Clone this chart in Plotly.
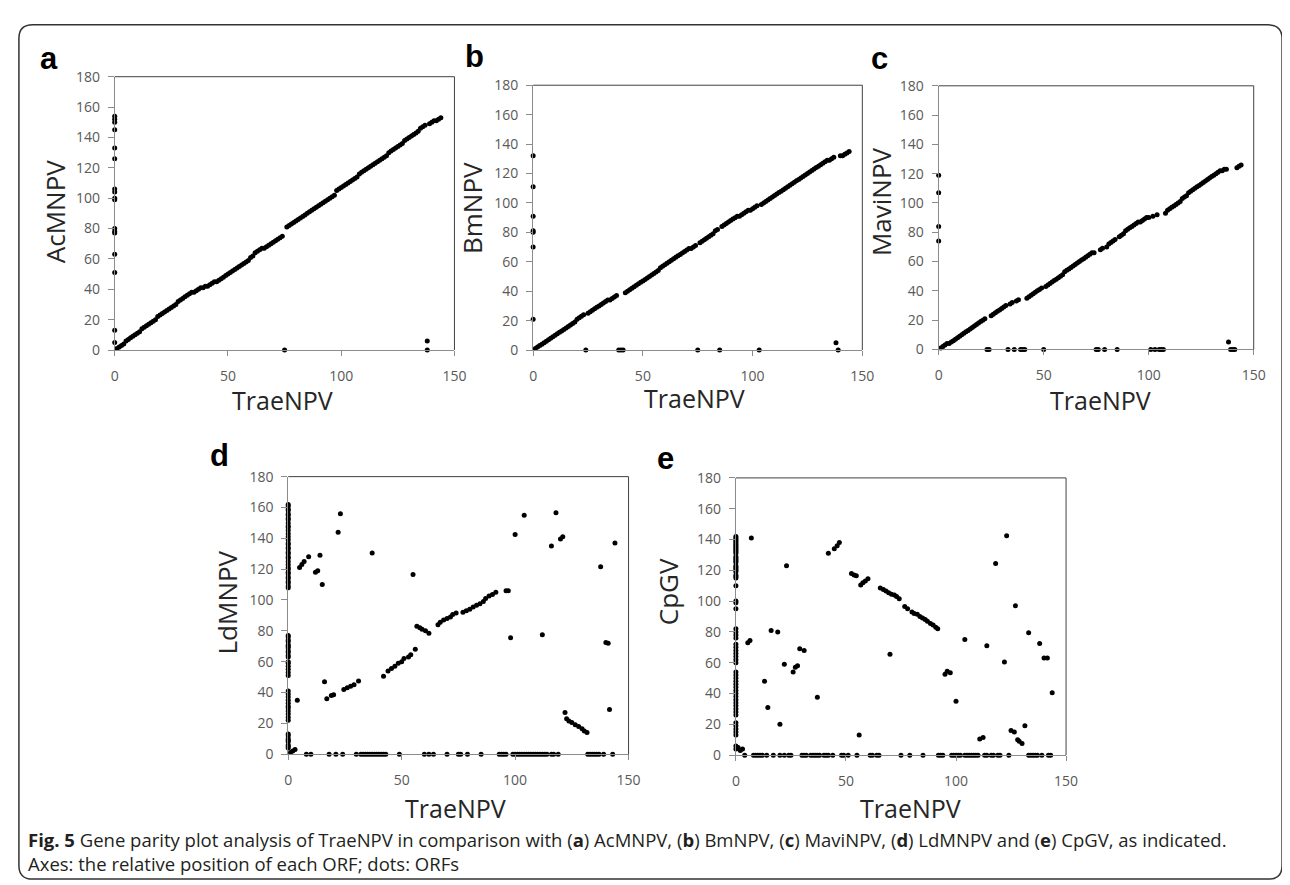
import plotly.graph_objects as go

W, H = 1290, 885

# ---------------- data (ORF positions) ----------------
# Panel a: TraeNPV vs AcMNPV
a_diag = [(1,1),(2,2),(3,3),(4,4),(5,6),(6,7),(7,8),(8,9),(9,10),(10,11),
          (11,12),(12,14),(13,15),(14,16),(15,17),(16,18),(17,19),(18,20),(19,22),(20,23),
          (21,24),(22,25),(23,26),(24,27),(25,28),(26,29),(27,30),(28,32),(29,33),(30,34),
          (31,35),(32,36),(33,37),(34,38),(35,38),(36,39),(37,40),(38,41),(39,41),(40,42),
          (41,42),(42,43),(43,44),(44,45),(45,45),(46,46),(47,47),(48,48),(49,49),(50,50),
          (51,51),(52,52),(53,53),(54,54),(55,55),(56,56),(57,57),(58,58),(59,59),(60,61),
          (61,62),(62,64),(63,65),(64,66),(65,67),(66,67),(67,68),(68,69),(69,70),(70,71),
          (71,72),(72,73),(73,74),(74,75),
          (76,81),(77,82),(78,83),(79,84),(80,85),(81,86),(82,87),(83,88),(84,89),(85,90),
          (86,91),(87,92),(88,93),(89,94),(90,95),(91,96),(92,97),(93,98),(94,99),(95,100),
          (96,101),(97,102),(98,105),(99,106),(100,107),(101,108),(102,109),(103,110),(104,111),(105,112),
          (106,113),(107,114),(108,116),(109,117),(110,118),(111,119),(112,120),(113,121),(114,122),(115,123),
          (116,124),(117,125),(118,126),(119,127),(120,128),(121,130),(122,131),(123,132),(124,133),(125,134),
          (126,135),(127,136),(128,138),(129,139),(130,140),(131,141),(132,142),(133,143),(134,144),(135,146),
          (136,147),(137,148),(138,6),
          (139,149),(140,150),(141,151),(142,151),(143,152),(144,153)]
a_on_yaxis = [154,152,150,145,133,126,106,104,100,99,80,78,77,63,51,13,5]
a_on_xaxis = [75,138]

# Panel b: TraeNPV vs BmNPV
b_diag = [(1,1),(2,2),(3,3),(4,4),(5,5),(6,6),(7,7),(8,8),(9,9),(10,10),
          (11,11),(12,12),(13,13),(14,14),(15,15),(16,16),(17,17),(18,18),(19,19),(20,21),
          (21,22),(22,23),(23,24),(25,25),(26,26),(27,27),(28,28),(29,29),(30,30),
          (31,31),(32,32),(33,33),(34,34),(35,34),(36,35),(37,36),(38,37),
          (42,39),(43,40),(44,41),(45,42),(46,43),(47,44),(48,45),(49,46),(50,47),
          (51,48),(52,49),(53,50),(54,51),(55,52),(56,53),(57,54),(58,56),(59,57),(60,58),
          (61,59),(62,60),(63,61),(64,62),(65,63),(66,64),(67,65),(68,66),(69,67),(70,68),
          (71,69),(72,69),(73,70),(74,71),
          (76,73),(77,74),(78,75),(79,76),(80,77),(81,78),(82,79),(83,81),(84,82),
          (86,84),(87,85),(88,86),(89,87),(90,88),(91,89),(92,90),(93,91),(94,91),(95,92),
          (96,93),(97,94),(98,95),(99,95),(100,96),(101,97),(102,98),
          (104,99),(105,100),(106,101),(107,102),(108,103),(109,104),(110,105),(111,106),(112,107),(113,108),
          (114,109),(115,110),(116,111),(117,112),(118,113),(119,114),(120,115),(121,116),(122,117),(123,118),
          (124,119),(125,120),(126,121),(127,122),(128,123),(129,124),(130,125),(131,126),(132,127),(133,128),
          (134,129),(135,129),(136,130),(137,131),(138,5),
          (140,132),(141,132),(142,133),(143,134),(144,135)]
b_on_yaxis = [132,111,91,81,80,70,21]
b_on_xaxis = [24,39,40,41,75,85,103,139]

# Panel c: TraeNPV vs MaviNPV
c_diag = [(1,1),(2,2),(3,3),(4,4),(5,4),(6,5),(7,6),(8,7),(9,8),(10,9),
          (11,10),(12,11),(13,12),(14,13),(15,14),(16,15),(17,16),(18,17),(19,18),(20,19),
          (21,20),(22,21),(25,23),(26,24),(27,25),(28,26),(29,27),(30,28),
          (31,29),(32,30),(34,31),(35,32),(37,33),(38,34),
          (42,35),(43,36),(44,37),(45,38),(46,39),(47,40),(48,41),(49,42),(51,43),(52,44),(53,45),(54,46),(55,47),
          (56,48),(57,49),(58,50),(59,51),(60,53),(61,54),(62,55),(63,56),(64,57),(65,58),(66,59),(67,60),(68,61),(69,62),(70,63),
          (71,64),(72,65),(73,66),(74,66),(77,68),(78,69),(80,70),(81,72),(82,73),(83,74),(84,75),
          (86,77),(87,78),(88,79),(89,81),(90,82),(91,83),(92,84),(93,85),(94,86),(95,87),(96,87),(97,88),(98,89),(99,90),(100,90),
          (102,91),(104,92),(108,93),(109,95),(110,96),(111,97),(112,98),(113,99),(114,100),(115,101),(116,103),(117,104),(118,105),(119,107),(120,108),
          (121,109),(122,110),(123,111),(124,112),(125,113),(126,114),(127,115),(128,116),(129,117),(130,118),(131,119),(132,120),(133,121),(134,122),
          (135,122),(136,123),(137,123),(138,5),(142,124),(143,125),(144,126)]
c_on_yaxis = [119,107,84,74]
c_on_xaxis = [23,24,33,36,39,40,41,50,75,76,79,85,101,103,105,106,107,139,140,141]

# Panel d: TraeNPV vs LdMNPV
d_pts = [(1,1),(2,2),(3,3),
         (4,35),(5,121),(6,123),(7,125),(9,128),(12,118),(13,119),(14,129),(15,110),(16,47),(17,36),(19,38),(20,38.5),
         (22,144),(23,156),(24.5,42),(26,43),(27.5,44),(29,45),(31,47.5),(37,130.5),
         (42,50.5),(44,54),(45.5,55.5),(47,57),(48.5,59),(50,60),(51,62),(53,63),(54,64.5),(56,68),(55,116.5),
         (56.7,83),(58,82),(59,81),(60.5,80),(62,78.5),
         (66,84),(67,85.5),(68.5,87),(70,88),(71.5,89),(72.5,90.5),(74,91.5),
         (77,92),(78.5,93),(80,94),(81.5,95.5),(83,96.5),(84.5,97.5),
         (86,99),(87,101),(88.5,102.5),(90,103.5),(91.5,105),(96,106),(97,106),
         (98,75.5),(100,142.5),(104,155),(112,77.5),(116,135),(118,156.5),(120,139.5),(121,141),
         (122,27),(122.7,23),(123.7,21.5),(125,20.5),(126.5,19),(128,18),(129.5,16.5),(130.5,15),(131.7,14),
         (137.7,121.5),(140,72.5),(141,72),(141.6,29),(144,137)]
d_on_yaxis = [108,109,111,112,114,115,117,118,120,121,123,125,127,128,130,131,133,134,136,137,139,141,143,145,147,148,
              150,152,153,155,156,158,159,161,162,
              63,64,66,67,69,70,71,73,74,76,77,
              51,53,55,57,59,60,
              22,24,26,28,30,31,33,35,37,39,41,
              4,5,6,8,9,10,12,13]
d_on_xaxis = [8,10,18,21,24,30,32,33,34,35,36,37,38,39,40,41,42,43,49,60,62,64,70,75,76,79,85,
              93,94,95,96,99,100,101,102,103,104,105,106,107,108,109,110,111,112,113,114,116,117,119,
              132,133,134,135,136,137,139,143]

# Panel e: TraeNPV vs CpGV
e_pts = [(1,5),(2,3),(3,4),
         (5.4,73),(6.4,74.5),(7,141),(13,48),(14.5,31),(16,81),(19,80),(20,20),(22,59),(23,123),
         (26,54),(27,57),(28,58),(29,69),(31,68),(37,37.5),(42,131),(44.7,134),(46,136),(47,138),
         (52.5,118),(53.7,117),(54.7,116.5),(56,13),(56.7,110.5),(57.7,112),(58.8,113),(60,114.5),
         (65.6,108.5),(67,107.5),(68.2,106.5),(69.4,105.5),(70.7,104.5),(72,104),(73,103),(74.2,101.5),(70,65.5),
         (76.7,96.5),(78,95),(80,93),(81,92),(82.4,91.5),(83.6,90),(84.8,89),(86,88),(87,87),(88.4,85.5),
         (89.6,84.5),(90.8,83),(91.7,82),(95,52.5),(96,54.5),(97.4,53.5),(100,35),(104,75),
         (110.8,10.5),(112.3,11.5),(114,71),(118,124.5),(122,60.5),(123,142.5),(125,16),(126.5,15),(127,97),
         (128,10),(128.7,9),(130,7.5),(131.3,19),(133,79.5),(138,72.5),(140,63),(141.5,63),(143.7,40.5)]
e_on_yaxis = [142,141,140,139,138,137,136,135,134,133,132,131,129,128,127,126,125,123,122,121,120,119,117,116,115,
              110,100,99,95,82,80,78,76,72,70,68,66,64,62,60,
              54,52,50,48,46,44,42,40,38,36,34,32,30,28,26,21,19,17,15,13,6,4]
e_on_xaxis = [4,8,9,10,11,12,14,17,20,22,24,25,30,31,32,34,35,36,37,38,40,41,42,44,48,49,51,55,
              61,62,64,65,75,79,85,92,93,94,98,99,100,101,102,104,105,106,107,108,109,110,
              113,114,116,117,119,120,124,133,134,135,136,137,139,142,143]

x_ticks = [0, 50, 100, 150]
y_ticks = [0, 20, 40, 60, 80, 100, 120, 140, 160, 180]
x_title = "TraeNPV"

panels = [
    dict(letter="a", name="AcMNPV", pts=a_diag, yax=a_on_yaxis, xax=a_on_xaxis),
    dict(letter="b", name="BmNPV", pts=b_diag, yax=b_on_yaxis, xax=b_on_xaxis),
    dict(letter="c", name="MaviNPV", pts=c_diag, yax=c_on_yaxis, xax=c_on_xaxis),
    dict(letter="d", name="LdMNPV", pts=d_pts, yax=d_on_yaxis, xax=d_on_xaxis),
    dict(letter="e", name="CpGV", pts=e_pts, yax=e_on_yaxis, xax=e_on_xaxis),
]

# ---------------- layout geometry (pixels) ----------------
# plot areas: left, right, top, bottom
boxes = [(104, 448, 60, 339.3), (527.7, 861, 68.7, 339.3), (938.3, 1257.3, 69.3, 338.7),
         (279.7, 624.3, 468.7, 752.3), (733, 1067.3, 470, 753.3)]
letter_pos = [(37, 41), (468, 39), (878, 41), (210, 447), (662, 450)]
ytitle_pos = [(43, 198), (466, 194), (880, 188), (218, 597), (665, 586)]
xtitle_pos = [(274, 390), (691, 388), (1102, 390), (449, 807), (910, 807)]


def px(x):
    return x / W


def py(y):
    return 1 - y / H


FONT = "Open Sans"
fig = go.Figure()
layout = dict(width=W, height=H, margin=dict(l=0, r=0, t=0, b=0),
              paper_bgcolor="white", plot_bgcolor="white", showlegend=False)
shapes = []
annotations = []

for i, (p, box) in enumerate(zip(panels, boxes), start=1):
    xs = [q[0] for q in p["pts"]] + [0] * len(p["yax"]) + list(p["xax"])
    ys = [q[1] for q in p["pts"]] + list(p["yax"]) + [0] * len(p["xax"])
    sfx = "" if i == 1 else str(i)
    fig.add_trace(go.Scatter(x=xs, y=ys, mode="markers", xaxis="x" + sfx, yaxis="y" + sfx,
                             marker=dict(color="#000000", size=5), cliponaxis=False,
                             hoverinfo="x+y"))
    l, r, t, b = box
    layout["xaxis" + sfx] = dict(domain=[px(l), px(r)], range=[0, 150], anchor="y" + sfx,
                                 tickvals=x_ticks, ticks="outside", ticklen=5, tickcolor="#8c8c8c",
                                 showline=True, linecolor="#8c8c8c", linewidth=1, showgrid=False,
                                 zeroline=False, ticklabelstandoff=8,
                                 tickfont=dict(family=FONT, size=14, color="#595959"))
    layout["yaxis" + sfx] = dict(domain=[py(b), py(t)], range=[0, 180], anchor="x" + sfx,
                                 tickvals=y_ticks, ticks="outside", ticklen=6, tickcolor="#8c8c8c",
                                 showline=True, linecolor="#8c8c8c", linewidth=1, showgrid=False,
                                 zeroline=False, ticklabelstandoff=5,
                                 tickfont=dict(family=FONT, size=14, color="#595959"))
    shapes.append(dict(type="line", xref="x%s domain" % sfx, yref="y%s domain" % sfx,
                       x0=0, x1=1, y0=1, y1=1, line=dict(color="#404040", width=1)))
    shapes.append(dict(type="line", xref="x%s domain" % sfx, yref="y%s domain" % sfx,
                       x0=1, x1=1, y0=0, y1=1, line=dict(color="#404040", width=1)))
    lx, ly = letter_pos[i - 1]
    annotations.append(dict(text="<b>%s</b>" % p["letter"], x=px(lx), y=py(ly), xref="paper", yref="paper",
                            xanchor="center", yanchor="middle", showarrow=False,
                            font=dict(family="Liberation Sans", size=31, color="#000000")))
    tx, ty = ytitle_pos[i - 1]
    annotations.append(dict(text=p["name"], x=px(tx), y=py(ty), xref="paper", yref="paper",
                            xanchor="center", yanchor="middle", showarrow=False, textangle=-90,
                            font=dict(family=FONT, size=26, color="#262626")))
    tx, ty = xtitle_pos[i - 1]
    annotations.append(dict(text=x_title, x=px(tx), y=py(ty), xref="paper", yref="paper",
                            xanchor="center", yanchor="middle", showarrow=False,
                            font=dict(family=FONT, size=25, color="#262626")))

# caption
cap1 = ("<b>Fig. 5</b> Gene parity plot analysis of TraeNPV in comparison with (<b>a</b>) AcMNPV, "
        "(<b>b</b>) BmNPV, (<b>c</b>) MaviNPV, (<b>d</b>) LdMNPV and (<b>e</b>) CpGV, as indicated.")
cap2 = "Axes: the relative position of each ORF; dots: ORFs"
for txt, yy in [(cap1, 840), (cap2, 864)]:
    annotations.append(dict(text=txt, x=px(14), y=py(yy), xref="paper", yref="paper",
                            xanchor="left", yanchor="middle", showarrow=False,
                            font=dict(family=FONT, size=18.5, color="#231f20")))

# rounded outer border
L, R, T, B = px(7), px(1286), py(7), py(880)
rx, ry = 14 / W, 14 / H
path = (f"M {L+rx},{T} L {R-rx},{T} Q {R},{T} {R},{T-ry} L {R},{B+ry} Q {R},{B} {R-rx},{B} "
        f"L {L+rx},{B} Q {L},{B} {L},{B+ry} L {L},{T-ry} Q {L},{T} {L+rx},{T} Z")
shapes.append(dict(type="path", xref="paper", yref="paper", path=path,
                   line=dict(color="#333333", width=1.5)))

layout["shapes"] = shapes
layout["annotations"] = annotations
fig.update_layout(**layout)
fig.write_html("out.html")
